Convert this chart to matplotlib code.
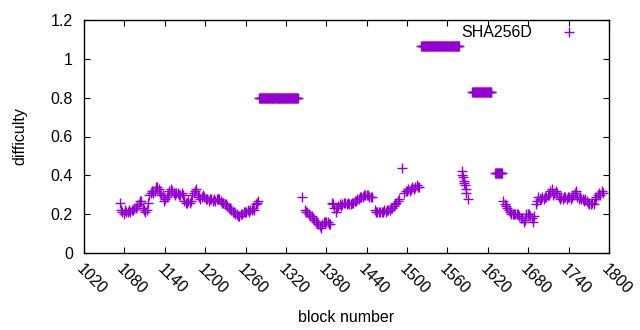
import matplotlib
matplotlib.use("Agg")
import matplotlib.pyplot as plt

plt.rcParams['font.family'] = ['Liberation Sans', 'DejaVu Sans']
plt.rcParams['font.size'] = 11.5

purple = "#9400D3"

# varying stretches (block number, difficulty)
blocks_a = [1073, 1075, 1077, 1079, 1081, 1083, 1085, 1087, 1089, 1091, 1093, 1095, 1097, 1099,
            1101, 1103, 1105, 1107, 1109, 1111, 1113, 1115, 1117, 1119, 1121, 1123, 1125, 1127,
            1129, 1131, 1133, 1135, 1137, 1139, 1141, 1143, 1145, 1147, 1149, 1151, 1153, 1155,
            1157, 1159, 1161, 1163, 1165, 1167, 1169, 1171, 1173, 1175, 1177, 1179, 1181, 1183,
            1185, 1187, 1189, 1191, 1193, 1195, 1197, 1199, 1201, 1203, 1205, 1207, 1209, 1211,
            1213, 1215, 1217, 1219, 1221, 1223, 1225, 1227, 1229, 1231, 1233, 1235, 1237, 1239,
            1241, 1243, 1245, 1247, 1249, 1251, 1253, 1255, 1257, 1259, 1261, 1263, 1265, 1267,
            1269, 1271, 1273, 1275, 1277, 1278]
diff_a = [.26, .22, .21, .20, .22, .21, .21, .22, .21, .22, .22, .23, .23, .24,
          .25, .27, .27, .23, .22, .21, .22, .26, .30, .31, .32, .31, .32, .34,
          .34, .33, .31, .30, .30, .27, .28, .29, .30, .32, .33, .32, .31, .30,
          .31, .31, .30, .30, .31, .30, .27, .26, .26, .27, .26, .27, .30, .31,
          .32, .33, .30, .29, .28, .29, .30, .29, .28, .28, .27, .28, .28, .27,
          .28, .27, .28, .28, .28, .27, .26, .26, .25, .25, .24, .23, .23, .22,
          .21, .21, .20, .20, .19, .19, .20, .20, .21, .21, .21, .22, .21, .22,
          .22, .23, .22, .25, .26, .27]

blocks_b = [1344, 1348, 1350, 1352, 1354, 1356, 1358, 1360, 1362, 1364, 1366, 1368, 1370, 1372,
            1374, 1376, 1378, 1380, 1382, 1384, 1386, 1388, 1390, 1392, 1394, 1396, 1398, 1400,
            1402, 1404, 1406, 1408, 1410, 1412, 1414, 1416, 1418, 1420, 1422, 1424, 1426, 1428,
            1430, 1432, 1434, 1436, 1438, 1440, 1442, 1444, 1446, 1448, 1452, 1454, 1456, 1458,
            1460, 1462, 1464, 1466, 1468, 1470, 1472, 1474, 1476, 1478, 1480, 1482, 1484, 1486,
            1488, 1492, 1496, 1498, 1500, 1502, 1504, 1506, 1508, 1510, 1512, 1514, 1516, 1518]
diff_b = [.29, .22, .21, .21, .20, .19, .19, .18, .17, .16, .16, .15, .14, .13,
          .15, .16, .16, .16, .16, .15, .15, .26, .25, .23, .21, .23, .24, .25,
          .24, .25, .26, .26, .25, .26, .25, .25, .26, .26, .27, .27, .28, .28,
          .29, .29, .29, .30, .30, .30, .30, .29, .29, .29, .22, .21, .21, .21,
          .21, .21, .21, .22, .21, .22, .22, .22, .23, .23, .24, .25, .26, .27,
          .28, .44, .31, .32, .32, .33, .32, .33, .34, .33, .34, .35, .34, .34]

blocks_c = [1581, 1582, 1583, 1584, 1585, 1586, 1587, 1588, 1590]
diff_c = [.42, .40, .39, .37, .36, .35, .33, .31, .28]

blocks_d = [1643, 1645, 1647, 1649, 1651, 1653, 1655, 1657, 1659, 1661, 1663, 1665, 1667, 1669,
            1671, 1673, 1675, 1677, 1679, 1681, 1683, 1685, 1687, 1689, 1691, 1693, 1695, 1697,
            1699, 1701, 1703, 1705, 1707, 1709, 1711, 1713, 1715, 1717, 1719, 1721, 1723, 1725,
            1727, 1729, 1731, 1733, 1735, 1737, 1739, 1741, 1743, 1745, 1747, 1749, 1751, 1753,
            1755, 1757, 1759, 1761, 1763, 1765, 1767, 1769, 1771, 1773, 1775, 1777, 1779, 1781,
            1783, 1785, 1787, 1789, 1791]
diff_d = [.27, .25, .24, .23, .22, .21, .20, .20, .20, .20, .20, .20, .19, .18,
          .18, .16, .17, .20, .20, .20, .19, .18, .16, .19, .25, .27, .29, .28,
          .28, .29, .28, .29, .29, .30, .30, .32, .33, .30, .31, .32, .31, .29,
          .28, .29, .28, .29, .29, .28, .29, .29, .28, .29, .30, .31, .32, .29,
          .28, .29, .28, .28, .27, .28, .27, .26, .25, .25, .26, .25, .28, .29,
          .30, .31, .30, .32, .31]

# flat stretches: first block, last block, difficulty
plateau_start = [1280, 1521, 1597, 1631]
plateau_end = [1338, 1577, 1625, 1641]
plateau_diff = [0.80, 1.065, 0.83, 0.41]

blocks = blocks_a + blocks_b + blocks_c + blocks_d
diffs = diff_a + diff_b + diff_c + diff_d
for s, e, d in zip(plateau_start, plateau_end, plateau_diff):
    for b in range(s, e + 1):
        blocks.append(b)
        diffs.append(d)

fig = plt.figure(figsize=(6.4, 3.3), dpi=100)
ax = fig.add_axes([84 / 640, 77 / 330, 525 / 640, 233 / 330])

ax.plot(blocks, diffs, linestyle="none", marker="+", color=purple,
        markersize=7, markeredgewidth=1.0, label="SHA256D")

ax.set_xlim(1020, 1800)
ax.set_ylim(0, 1.2)
ax.set_xticks(range(1020, 1801, 60))
ax.set_yticks([0, 0.2, 0.4, 0.6, 0.8, 1, 1.2])
ax.set_yticklabels(["0", "0.2", "0.4", "0.6", "0.8", "1", "1.2"])
ax.tick_params(direction="in", length=4.5, width=0.8, top=True, right=True, colors="black")
ax.tick_params(axis="y", pad=8)
for lab in ax.get_xticklabels():
    lab.set_rotation(-45)
    lab.set_ha("left")
    lab.set_va("top")
    lab.set_rotation_mode("anchor")
ax.tick_params(axis="x", pad=6)
for sp in ax.spines.values():
    sp.set_linewidth(1.0)

ax.set_xlabel("block number", labelpad=9.5)
ax.set_ylabel("difficulty", labelpad=17)

ax.legend(loc="upper right", bbox_to_anchor=(0.985, 1.019), frameon=False, markerfirst=False,
          handlelength=2.8, handletextpad=0.9, borderaxespad=0.2)

fig.savefig("out.png", dpi=100)
